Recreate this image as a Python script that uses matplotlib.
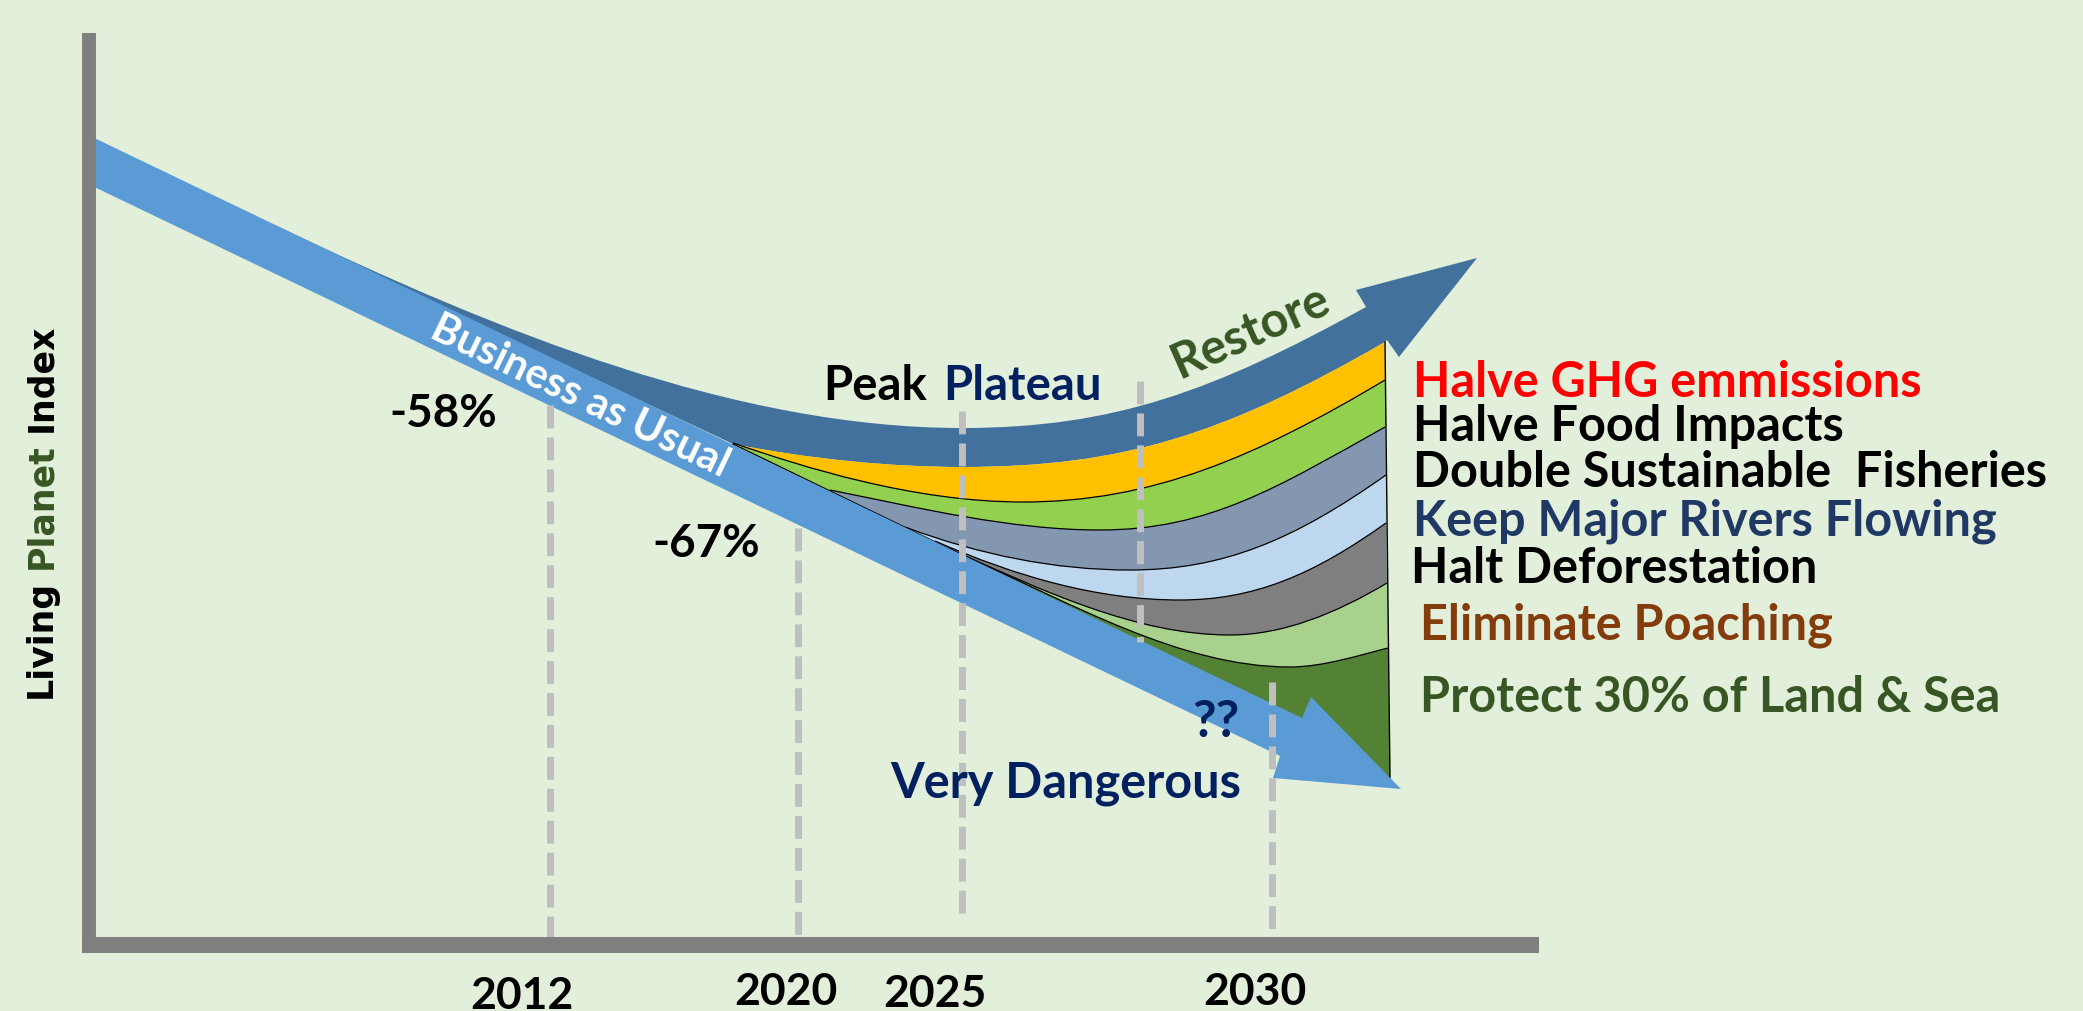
import numpy as np
import matplotlib.pyplot as plt
from matplotlib.path import Path
from matplotlib.patches import PathPatch, Polygon

plt.rcParams['lines.scale_dashes'] = False

#------------------------------------------------------------------------------
# Canvas: one data unit = one pixel of the slide, y pointing down
#------------------------------------------------------------------------------
W, H = 2083, 1011
bg = '#E2EFDA'
font = 'Lato'

# year marks on the time axis
years = ['2012', '2020', '2025', '2030']
year_x = [522, 786, 935, 1255]
year_base = [1009, 1005, 1007, 1005]

# dashed guides
guide_x = [550, 798, 962, 1140, 1272]
guide_top = [405, 528, 411, 381, 682]
guide_bottom = [937, 937, 922, 642, 930]

# business as usual arrow outline
bau_x = [88, 1302, 1311, 1401, 1273, 1280, 88]
bau_y = [135, 718, 697, 789, 778, 756, 184]

# restore arrow: top edge (two cubic segments) and head
restore_top = [(275, 225), (500, 333), (737, 428), (962, 428),
               (1114, 428), (1214, 391), (1366, 307)]
restore_head = [(1356, 290), (1477, 258), (1399, 357), (1387, 340)]

# top edge of each goal band (two cubic segments each), top band first
band_tops = [
    [(733, 444), (810, 459), (890, 467), (962, 467), (1124, 467), (1225, 434), (1385, 342)],
    [(733, 443), (803, 467), (913, 502), (1023, 502), (1152, 502), (1256, 457), (1385, 380)],
    [(830, 490), (920, 508), (1010, 530), (1100, 530), (1209, 530), (1278, 487), (1385, 427)],
    [(905, 527), (980, 555), (1055, 570), (1130, 570), (1223, 570), (1294, 540), (1386, 475)],
    [(935, 541), (1017, 577), (1098, 600), (1180, 600), (1254, 600), (1313, 575), (1386, 523)],
    [(950, 549), (1043, 591), (1137, 635), (1230, 635), (1282, 635), (1335, 614), (1387, 583)],
    [(962, 555), (1072, 603), (1180, 667), (1290, 667), (1323, 667), (1360, 655), (1388, 648)],
]
band_colors = ['#FFC000', '#92D050', '#8497B0', '#BDD7EE', '#7F7F7F', '#A9D18E', '#548235']
band_foot = (1390, 785)

goals = ['Halve GHG emmissions', 'Halve Food Impacts', 'Double Sustainable  Fisheries',
         'Keep Major Rivers Flowing', 'Halt Deforestation', 'Eliminate Poaching',
         'Protect 30% of Land & Sea']
goal_colors = ['#FF0000', 'black', 'black', '#1F3864', 'black', '#843C0C', '#375623']
goal_x = [1413, 1413, 1413, 1413, 1411, 1420, 1420]
goal_base = [397, 441, 487, 535, 583, 640, 712]

ylabel_words = ['Living', 'Planet', 'Index']
ylabel_colors = ['black', '#375623', 'black']

navy = '#002060'

#------------------------------------------------------------------------------
fig = plt.figure(figsize=(W / 100, H / 100), dpi=100)
fig.patch.set_facecolor(bg)
ax = fig.add_axes([0, 0, 1, 1])
ax.set_xlim(0, W)
ax.set_ylim(H, 0)
ax.axis('off')

C = Path.CURVE4
L = Path.LINETO

# restore arrow
orange_back = band_tops[0][::-1]
verts = restore_top + restore_head + orange_back + [(275, 229), (0, 0)]
codes = ([Path.MOVETO] + [C] * 6 + [L] * 4 + [L] + [C] * 6 + [L, Path.CLOSEPOLY])
ax.add_patch(PathPatch(Path(verts, codes), facecolor='#41719C', edgecolor='none', zorder=2))

# goal bands, each from its top edge down under the BAU arrow
for top, col in zip(band_tops, band_colors):
    verts = top + [band_foot, top[0], (0, 0)]
    codes = [Path.MOVETO] + [C] * 6 + [L, L, Path.CLOSEPOLY]
    ax.add_patch(PathPatch(Path(verts, codes), facecolor=col, edgecolor='none', zorder=3))

for top in band_tops[1:]:
    ax.add_patch(PathPatch(Path(top, [Path.MOVETO] + [C] * 6), fill=False,
                           edgecolor='black', lw=0.9, zorder=4))
ax.plot([1385, 1390], [342, 778], color='black', lw=1.0, zorder=4)
ax.plot([733, 962], [444, 555], color='black', lw=1.0, zorder=4)

# business as usual
ax.add_patch(Polygon(np.column_stack([bau_x, bau_y]), closed=True,
                     facecolor='#5B9BD5', edgecolor='none', zorder=5))

# dashed guides
for gx, gt, gb in zip(guide_x, guide_top, guide_bottom):
    ax.plot([gx, gx], [gt, gb], color='#BFBFBF', lw=5, dashes=(16.5, 6.5), zorder=6)

# axes bars
ax.plot([89, 89], [33, 953], color='#7F7F7F', lw=10, solid_capstyle='butt', zorder=7)
ax.plot([82, 1539], [945, 945], color='#7F7F7F', lw=11.5, solid_capstyle='butt', zorder=7)

for yr, x, yb in zip(years, year_x, year_base):
    ax.text(x, yb, yr, ha='center', va='baseline', fontsize=32, fontweight='bold',
            family=font, color='black', zorder=8)

# y label, three colours, words stacked bottom to top
fig.canvas.draw()
rend = fig.canvas.get_renderer()
y = 698
for w, c in zip(ylabel_words, ylabel_colors):
    t = ax.text(51, y, w, rotation=90, rotation_mode='anchor', ha='left', va='baseline',
                fontsize=25, fontweight='bold', family='DejaVu Sans', color=c, zorder=8)
    y -= t.get_window_extent(rend).height + 11

for g, c, x, yb in zip(goals, goal_colors, goal_x, goal_base):
    ax.text(x, yb, g, ha='left', va='baseline', fontsize=35, fontweight='bold',
            family=font, color=c, zorder=8)

# annotations
ax.text(443, 427, '-58%', ha='center', va='baseline', fontsize=33, fontweight='bold',
        family=font, color='black', zorder=8)
ax.text(706, 557, '-67%', ha='center', va='baseline', fontsize=33, fontweight='bold',
        family=font, color='black', zorder=8)
ax.text(823, 400, 'Peak', ha='left', va='baseline', fontsize=34, fontweight='bold',
        family=font, color='black', zorder=8)
ax.text(943, 400, 'Plateau', ha='left', va='baseline', fontsize=34, fontweight='bold',
        family=font, color=navy, zorder=8)
ax.text(1256, 345, 'Restore', rotation=24, rotation_mode='anchor', ha='center',
        va='baseline', fontsize=35, fontweight='bold', family=font, color='#375623', zorder=8)
ax.text(575, 407, 'Business as Usual', rotation=-25.6, rotation_mode='anchor', ha='center',
        va='baseline', fontsize=30, fontweight='bold', family=font, color='white', zorder=8)
ax.text(1216, 737, '??', ha='center', va='baseline', fontsize=37, fontweight='bold',
        family=font, color=navy, zorder=8)
ax.text(890, 797, 'Very Dangerous', ha='left', va='baseline', fontsize=35, fontweight='bold',
        family=font, color=navy, zorder=8)

fig.savefig('out.png', dpi=100, facecolor=fig.get_facecolor())
